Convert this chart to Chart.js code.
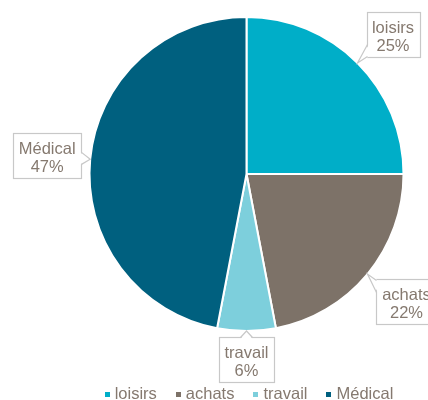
<!DOCTYPE html>
<html lang="fr">
<head>
    <meta charset="UTF-8">
    <title>Répartition des déplacements</title>
    <style>
        html, body { margin: 0; padding: 0; background: #ffffff; }
        .chart-box { width: 428px; height: 400px; position: relative; }
    </style>
    <script src="https://cdn.jsdelivr.net/npm/chart.js"></script>
</head>
<body>
<div class="chart-box"><canvas id="pieChart"></canvas></div>
<script>
    const categories = ['loisirs', 'achats', 'travail', 'Médical'];
    const shares = [25, 22, 6, 47];
    const sliceColors = ['#00aec8', '#7d7268', '#7dcfdc', '#00607f'];

    const textColor = '#85796f';
    const fontFamily = '"Liberation Sans", Arial, sans-serif';

    // callout boxes with a pointer on each slice
    const calloutPlugin = {
        id: 'callouts',
        afterDatasetsDraw(chart) {
            const ctx = chart.ctx;
            const arcs = chart.getDatasetMeta(0).data;
            const clamp = (v, lo, hi) => Math.max(lo, Math.min(hi, v));
            ctx.save();
            ctx.font = '16.5px ' + fontFamily;
            arcs.forEach((arc, i) => {
                const p = arc.getProps(['x', 'y', 'startAngle', 'endAngle', 'outerRadius'], true);
                const mid = (p.startAngle + p.endAngle) / 2;
                const dx = Math.cos(mid), dy = Math.sin(mid);
                const tx = p.x + dx * p.outerRadius;
                const ty = p.y + dy * p.outerRadius;
                const lines = [categories[i], shares[i] + '%'];
                const w = Math.round(Math.max(...lines.map(t => ctx.measureText(t).width)) + 11);
                const h = 45;
                const cx = tx + clamp(dx * 1.5, -1, 1) * (w / 2 + 9);
                const cy = ty + clamp(dy * 1.5, -1, 1) * (h / 2 + 6);
                const left = Math.round(cx - w / 2) + 0.5;
                const top = Math.round(cy - h / 2) + 0.5;
                const right = left + w, bottom = top + h;

                // which edge faces the tip
                const vx = tx - cx, vy = ty - cy;
                const sx = vx === 0 ? Infinity : (w / 2) / Math.abs(vx);
                const sy = vy === 0 ? Infinity : (h / 2) / Math.abs(vy);
                let b1, b2, i1, i2;
                if (sx < sy) {
                    const ex = vx < 0 ? left : right;
                    const inset = vx < 0 ? 1.5 : -1.5;
                    const yc = clamp(cy + vy * sx, top + 7, bottom - 7);
                    b1 = [ex, yc - 6]; b2 = [ex, yc + 6];
                    i1 = [ex + inset, yc - 6]; i2 = [ex + inset, yc + 6];
                } else {
                    const ey = vy < 0 ? top : bottom;
                    const inset = vy < 0 ? 1.5 : -1.5;
                    const xc = clamp(cx + vx * sy, left + 7, right - 7);
                    b1 = [xc - 6, ey]; b2 = [xc + 6, ey];
                    i1 = [xc - 6, ey + inset]; i2 = [xc + 6, ey + inset];
                }

                ctx.fillStyle = '#ffffff';
                ctx.strokeStyle = '#c8c8c8';
                ctx.lineWidth = 1.2;
                ctx.fillRect(left, top, w, h);
                ctx.strokeRect(left, top, w, h);

                ctx.beginPath();
                ctx.moveTo(i1[0], i1[1]);
                ctx.lineTo(tx, ty);
                ctx.lineTo(i2[0], i2[1]);
                ctx.closePath();
                ctx.fill();
                ctx.beginPath();
                ctx.moveTo(b1[0], b1[1]);
                ctx.lineTo(tx, ty);
                ctx.lineTo(b2[0], b2[1]);
                ctx.stroke();

                ctx.fillStyle = textColor;
                ctx.textAlign = 'center';
                ctx.textBaseline = 'alphabetic';
                ctx.fillText(lines[0], cx, top + 20);
                ctx.fillText(lines[1], cx, top + 38.7);
            });
            ctx.restore();
        }
    };

    // legend row along the bottom
    const legendPlugin = {
        id: 'bottomLegend',
        afterDraw(chart) {
            const ctx = chart.ctx;
            const marker = 5, gap = 5, spacing = 19;
            ctx.save();
            ctx.font = '16.5px ' + fontFamily;
            const widths = categories.map(t => ctx.measureText(t).width);
            const total = widths.reduce((a, b) => a + b, 0) + categories.length * (marker + gap) + (categories.length - 1) * spacing;
            const area = chart.chartArea;
            let x = (area.left + area.right) / 2 + 2.5 - total / 2;
            const baseline = 399;
            categories.forEach((label, i) => {
                ctx.fillStyle = sliceColors[i];
                ctx.fillRect(Math.round(x), baseline - 7, marker, marker);
                x += marker + gap;
                ctx.fillStyle = textColor;
                ctx.textAlign = 'left';
                ctx.textBaseline = 'alphabetic';
                ctx.fillText(label, x, baseline);
                x += widths[i] + spacing;
            });
            ctx.restore();
        }
    };

    new Chart(document.getElementById('pieChart'), {
        type: 'pie',
        data: {
            labels: categories,
            datasets: [{
                data: shares,
                backgroundColor: sliceColors,
                borderColor: '#ffffff',
                borderWidth: 2,
                hoverOffset: 0
            }]
        },
        options: {
            responsive: true,
            maintainAspectRatio: false,
            animation: false,
            layout: {
                padding: { top: 16, left: 88.5, right: 23.5, bottom: 68 }
            },
            plugins: {
                legend: { display: false },
                tooltip: { enabled: false }
            }
        },
        plugins: [calloutPlugin, legendPlugin]
    });
</script>
</body>
</html>
